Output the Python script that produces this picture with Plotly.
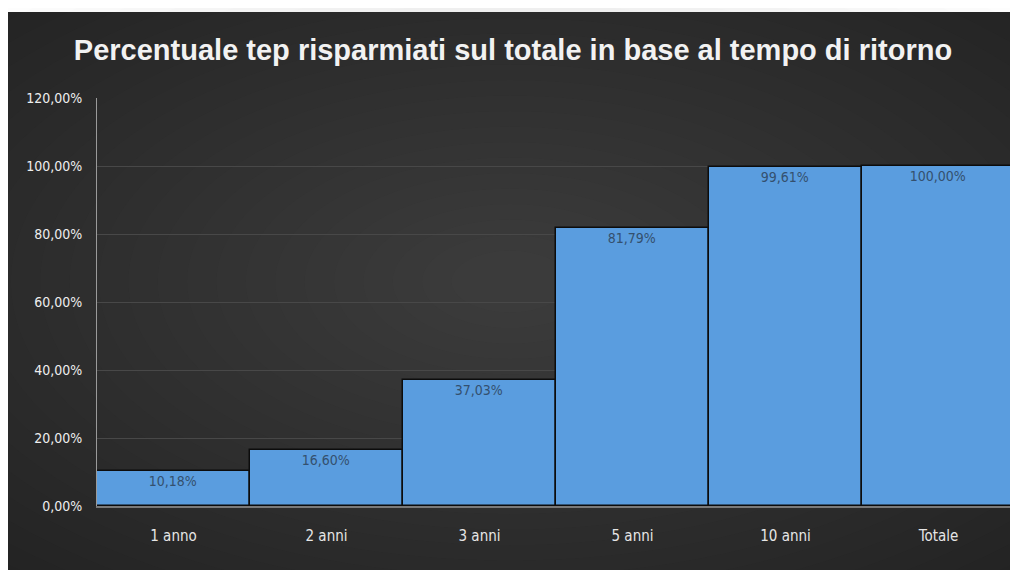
import plotly.graph_objects as go

categories = ["1 anno", "2 anni", "3 anni", "5 anni", "10 anni", "Totale"]
values = [0.1018, 0.1660, 0.3703, 0.8179, 0.9961, 1.0000]
y_ticks = [0, 0.2, 0.4, 0.6, 0.8, 1.0, 1.2]

title = "Percentuale tep risparmiati sul totale in base al tempo di ritorno"
font_narrow = "DejaVu Sans Condensed, Liberation Sans Narrow, Liberation Sans, sans-serif"

fig = go.Figure()
fig.add_trace(go.Bar(
    x=categories, y=values,
    marker=dict(color="#5a9ddf", line=dict(color="#0c0c0c", width=1.5)),
    texttemplate="%{y:.2%}",
    textposition="inside",
    insidetextanchor="end",
    textfont=dict(family=font_narrow, size=14, color="#34506e"),
    cliponaxis=False,
))

# white strip at the very top, then a soft radial glow on the dark panel
shapes = [dict(type="rect", xref="paper", yref="paper", layer="below",
               x0=-0.2, x1=1.2, y0=1.2108, y1=1.25,
               fillcolor="white", line=dict(width=0))]
for i in range(24):
    k = 1 - i * 0.04
    shapes.append(dict(type="circle", xref="paper", yref="paper", layer="below",
                       x0=0.45 - 0.8 * k, x1=0.45 + 0.8 * k,
                       y0=0.55 - 0.95 * k, y1=0.55 + 0.95 * k,
                       fillcolor="#9a9a9a", opacity=0.014, line=dict(width=0)))

fig.update_layout(
    width=1010, height=562,
    margin=dict(l=89, r=3, t=90, b=64),
    paper_bgcolor="#232323",
    plot_bgcolor="rgba(0,0,0,0)",
    separators=",.",
    bargap=0,
    showlegend=False,
    shapes=shapes,
    title=dict(text="<b>" + title + "</b>", x=0.5, xanchor="center",
               y=0.925, yanchor="middle",
               font=dict(family="Liberation Sans, sans-serif", size=29, color="#f2f2f2")),
    xaxis=dict(showgrid=False, showline=True, linecolor="#7a7a7a", linewidth=1.5,
               ticks="", ticklabelstandoff=15,
               tickfont=dict(family=font_narrow, size=15, color="#e6e6e6")),
    yaxis=dict(range=[0, 1.2], tickvals=y_ticks, tickformat=".2%",
               showgrid=True, gridcolor="#484848", gridwidth=1,
               showline=True, linecolor="#9a9a9a", linewidth=1,
               zeroline=False, ticks="", ticklabelstandoff=11,
               tickfont=dict(family=font_narrow, size=14, color="#eeeeee")),
)

fig.write_html("out.html")
